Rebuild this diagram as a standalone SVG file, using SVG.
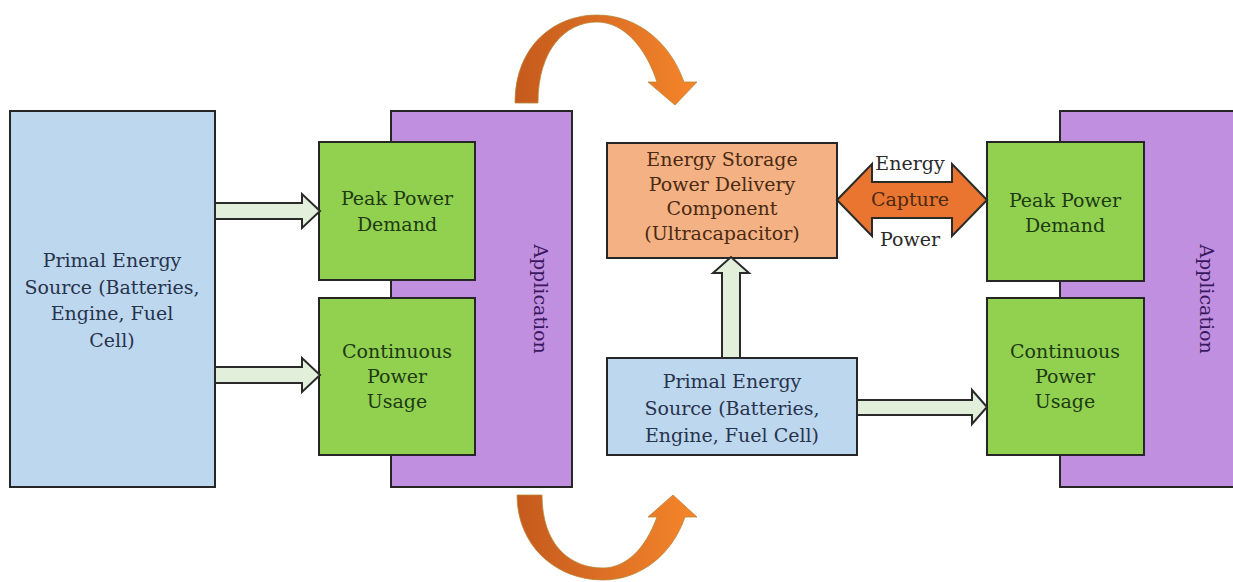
<svg xmlns="http://www.w3.org/2000/svg" width="1233" height="582" viewBox="0 0 1233 582">
<defs>
<linearGradient id="og" x1="0" y1="0" x2="1" y2="0">
<stop offset="0" stop-color="#c45a1d"/>
<stop offset="1" stop-color="#f6862b"/>
</linearGradient>
</defs>
<style>
.box{stroke:#262626;stroke-width:2}
.blue{fill:#bdd7ee}
.green{fill:#92d050}
.purple{fill:#c18fdf}
.orange{fill:#f4b183}
.blk{fill:#e2efda;stroke:#2a2a2a;stroke-width:2;stroke-linejoin:miter}
.dbl{fill:#ea7530;stroke:#2a2a2a;stroke-width:2}
.curve{fill:url(#og);stroke:#b8863a;stroke-width:0.8}
text{font-family:"DejaVu Serif","Liberation Serif",serif;font-size:19px;text-anchor:middle}
.tb{fill:#28334d}
.tg{fill:#1d3a12}
.to{fill:#4a2a12}
.tp{fill:#3a1860}
.ta{fill:#2a2a2a}
</style>
<rect width="1233" height="582" fill="#ffffff"/>

<g id="app-left">
<rect class="box purple" x="391" y="111" width="181" height="376"/>
<text class="tp" transform="translate(541,299) rotate(90)" dominant-baseline="central">Application</text>
</g>
<g id="app-right">
<rect class="box purple" x="1060" y="111" width="190" height="376"/>
<text class="tp" transform="translate(1207,299) rotate(90)" dominant-baseline="central">Application</text>
</g>

<g id="source-left">
<rect class="box blue" x="10" y="111" width="205" height="376"/>
<text class="tb" x="112" y="267">Primal Energy</text>
<text class="tb" x="112" y="294">Source (Batteries,</text>
<text class="tb" x="112" y="320">Engine, Fuel</text>
<text class="tb" x="112" y="347">Cell)</text>
</g>

<g id="peak-left">
<rect class="box green" x="319" y="142" width="156" height="138"/>
<text class="tg" x="397" y="205">Peak Power</text>
<text class="tg" x="397" y="231">Demand</text>
</g>
<g id="cont-left">
<rect class="box green" x="319" y="298" width="156" height="157"/>
<text class="tg" x="397" y="358">Continuous</text>
<text class="tg" x="397" y="383">Power</text>
<text class="tg" x="397" y="408">Usage</text>
</g>

<g id="storage">
<rect class="box orange" x="607" y="143" width="230" height="115"/>
<text class="to" x="722" y="166">Energy Storage</text>
<text class="to" x="722" y="191">Power Delivery</text>
<text class="to" x="722" y="215">Component</text>
<text class="to" x="722" y="240">(Ultracapacitor)</text>
</g>

<g id="source-right">
<rect class="box blue" x="607" y="358" width="250" height="97"/>
<text class="tb" x="732" y="388">Primal Energy</text>
<text class="tb" x="732" y="415">Source (Batteries,</text>
<text class="tb" x="732" y="442">Engine, Fuel Cell)</text>
</g>

<g id="peak-right">
<rect class="box green" x="987" y="142" width="157" height="139"/>
<text class="tg" x="1065" y="207">Peak Power</text>
<text class="tg" x="1065" y="232">Demand</text>
</g>
<g id="cont-right">
<rect class="box green" x="987" y="298" width="157" height="157"/>
<text class="tg" x="1065" y="358">Continuous</text>
<text class="tg" x="1065" y="383">Power</text>
<text class="tg" x="1065" y="408">Usage</text>
</g>

<g id="connectors">
<polygon class="blk" points="215,203 302,203 302,194 320,211 302,228 302,219 215,219"/>
<polygon class="blk" points="215,367 302,367 302,358 320,375 302,392 302,383 215,383"/>
<polygon class="blk" points="722,358 722,273 713,273 731,257 749,273 740,273 740,358"/>
<polygon class="blk" points="857,400 972,400 972,390 987,407 972,424 972,415 857,415"/>
<polygon class="dbl" points="837,200 872,164 872,182 952,182 952,164 987,200 952,236 952,218 872,218 872,236"/>
<text class="ta" x="910" y="170">Energy</text>
<text class="to" x="910" y="206">Capture</text>
<text class="ta" x="910" y="246">Power</text>
<path class="curve" d="M515,103 C515,45 555,15 597,15 C637,15 670,42 684,82 L697,82 L675,105 L648,82 L657,82 C646,48 624,22 597,22 C565,22 538,50 538,103 Z"/>
<path class="curve" d="M517,495 C517,545 555,580 603,580 C640,580 672,555 685,517 L697,517 L673,495 L648,517 L657,517 C645,550 625,568 603,568 C570,568 542,545 542,495 Z"/>
</g>
</svg>
